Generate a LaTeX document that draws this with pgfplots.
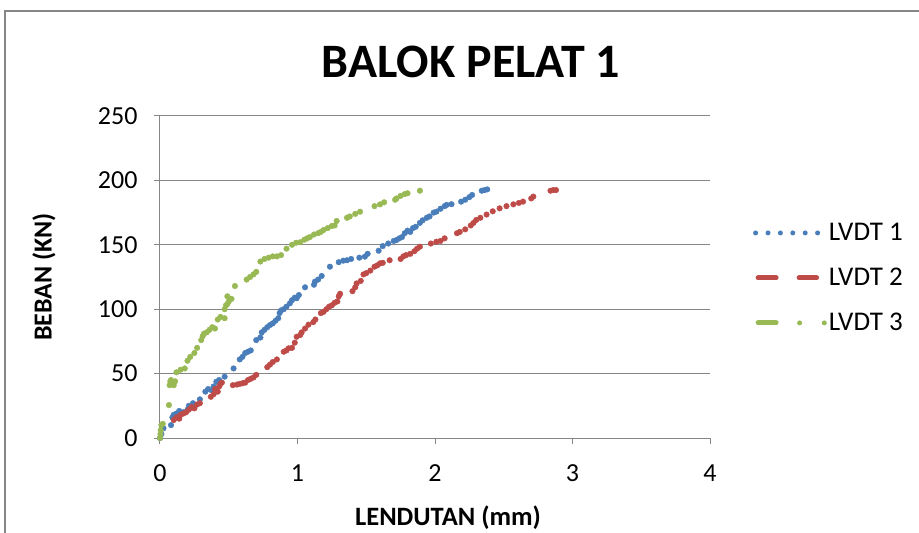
\documentclass[border=0pt]{standalone}
\usepackage{pgfplots}
\pgfplotsset{compat=1.18}
\usepackage{fontspec}
\setmainfont{Carlito}
\definecolor{cb}{HTML}{4A7EBB}
\definecolor{cr}{HTML}{BE4B48}
\definecolor{cg}{HTML}{98B954}
\definecolor{gc}{HTML}{868686}
\begin{document}
\begin{tikzpicture}[x=1pt,y=1pt]
\path[use as bounding box] (-160,-95) rectangle (759,438);
\draw[gc, line width=1.5pt] (-155,-95) -- (-155,427) -- (759,427);
\begin{axis}[
  width=550pt, height=322pt, scale only axis,
  at={(0,0)}, anchor=south west,
  xmin=0, xmax=4, ymin=0, ymax=250,
  xtick={0,1,2,3,4}, ytick={0,50,100,150,200,250},
  axis lines*=left,
  axis line style={-, gc, line width=1pt},
  tick style={gc, line width=1pt},
  tick align=outside, major tick length=6pt,
  ymajorgrids, grid style={gc, line width=1pt},
  /pgf/number format/assume math mode=true,
  ticklabel style={font=\fontsize{26}{30}\selectfont, black},
  xticklabel style={yshift=-17pt},
  yticklabel style={xshift=-13pt},
  legend style={draw=none, fill=none, at={(1.078,0.497)}, anchor=west,
    font=\fontsize{27}{31}\selectfont, row sep=22pt, inner sep=0pt},
  legend cell align=left,
  clip=false,
]
\addplot[only marks, mark=*, mark size=2.8pt, color=cb, forget plot] coordinates {
(0,0) (0.01,3) (0.025,7.5) (0.08,10) (0.09,16) (0.1,18) (0.12,19) (0.14,21) (0.17,20) (0.2,22)
(0.21,25) (0.24,27) (0.29,30) (0.33,36) (0.35,38) (0.375,37) (0.39,40) (0.41,43.7) (0.43,45)
(0.47,47.6) (0.535,54) (0.58,61) (0.6,63) (0.62,66) (0.64,67) (0.66,68) (0.70,76) (0.73,78)
(0.74,82) (0.76,84) (0.78,86) (0.8,87.7) (0.82,89) (0.84,91) (0.86,93) (0.87,97) (0.88,99)
(0.9,100) (0.92,102) (0.945,104.6) (0.96,107) (0.98,109) (0.994,108.5) (1.01,111) (1.055,117)
(1.12,119) (1.127,121.4) (1.15,123) (1.176,125.8) (1.236,133) (1.3,136.5) (1.333,137.7)
(1.36,138) (1.39,139) (1.45,140) (1.49,140.8) (1.51,143) (1.59,145.4) (1.62,149) (1.66,151)
(1.7,153) (1.72,153.7) (1.74,155) (1.76,156) (1.78,159) (1.8,161) (1.82,160) (1.84,163)
(1.86,164) (1.89,167) (1.91,169) (1.94,171) (1.96,172) (1.99,175) (2.01,175.7) (2.04,178)
(2.07,180) (2.085,181) (2.12,181.5) (2.19,183.5) (2.22,185) (2.25,187) (2.27,188.7) (2.34,192)
(2.36,192.5) (2.38,193)
};
\addplot[only marks, mark=*, mark size=2.8pt, color=cr, forget plot] coordinates {
(0.1,14) (0.12,16) (0.14,15) (0.15,18) (0.17,19) (0.19,20) (0.21,22) (0.23,24) (0.25,23)
(0.27,26) (0.29,27) (0.37,32) (0.39,34) (0.4,38) (0.42,36) (0.43,40) (0.44,42) (0.45,43)
(0.53,41) (0.56,41.5) (0.58,42) (0.6,42.5) (0.62,43) (0.64,45) (0.66,46) (0.68,47) (0.7,49)
(0.78,55) (0.8,57) (0.82,59) (0.85,61) (0.9,67) (0.92,68) (0.935,69.6) (0.96,70) (0.98,74)
(0.994,78.6) (1.02,80) (1.03,82) (1.055,85) (1.08,88) (1.115,90) (1.13,92) (1.17,97) (1.19,98)
(1.21,100) (1.23,102) (1.25,103) (1.27,105) (1.29,106) (1.3,110) (1.31,112) (1.4,114)
(1.42,117) (1.43,120) (1.46,122) (1.48,127) (1.5,128) (1.53,130) (1.56,133) (1.58,134)
(1.6,135.6) (1.62,136) (1.67,138) (1.75,139) (1.77,141) (1.79,142) (1.82,143) (1.85,145)
(1.87,147) (1.89,148.5) (1.97,151) (2.01,152.4) (2.04,153) (2.07,155) (2.16,159) (2.18,160)
(2.22,162) (2.26,165) (2.28,167) (2.30,169.3) (2.33,171) (2.375,173.5) (2.42,176) (2.47,178.3)
(2.52,180) (2.57,181.4) (2.61,182.5) (2.64,183.5) (2.7,186) (2.715,187.4) (2.84,192)
(2.86,192.5) (2.88,192.5)
};
\addplot[only marks, mark=*, mark size=2.8pt, color=cg, forget plot] coordinates {
(0,0) (0.003,3) (0.005,6) (0.01,10) (0.02,11) (0.065,25.6) (0.07,41) (0.075,44) (0.08,45)
(0.09,43) (0.1,41) (0.11,44) (0.12,51) (0.15,53) (0.18,54) (0.2,60) (0.22,63) (0.25,66)
(0.27,70) (0.3,76) (0.31,79) (0.32,81) (0.34,82) (0.36,84) (0.38,86) (0.4,85) (0.42,92)
(0.44,94) (0.47,93) (0.47,100) (0.48,103) (0.49,104) (0.5,106) (0.51,108) (0.49,110)
(0.52,108) (0.545,118) (0.63,123) (0.655,125) (0.68,127) (0.7,129) (0.73,137) (0.76,139)
(0.79,140) (0.82,141) (0.85,141) (0.88,142) (0.92,147) (0.96,150) (0.99,151.6) (1.02,152)
(1.05,154) (1.07,155) (1.09,156) (1.12,158) (1.15,159) (1.17,160) (1.19,161.5) (1.22,163)
(1.25,164.6) (1.27,165) (1.285,168.5) (1.36,171) (1.38,172) (1.42,174) (1.455,175.7)
(1.56,180) (1.6,181.4) (1.63,183) (1.71,185) (1.72,186) (1.75,188) (1.78,189.4) (1.8,190)
(1.89,192)
};
\addlegendimage{legend image code/.code={\draw[cb, line width=5pt, line cap=round, dash pattern=on 0pt off 12.4pt] (0pt,0pt) -- (62.5pt,0pt);}}
\addlegendimage{legend image code/.code={\draw[cr, line width=5pt, line cap=round, dash pattern=on 18pt off 23pt] (2.5pt,0pt) -- (61pt,0pt);}}
\addlegendimage{legend image code/.code={\draw[cg, line width=5pt, line cap=round, dash pattern=on 18pt off 23.5pt on 0pt off 24.7pt on 0pt off 100pt] (2.5pt,0pt) -- (68.7pt,0pt);}}
\legend{LVDT 1, LVDT 2, LVDT 3}
\end{axis}
\node[font=\fontsize{48}{54}\selectfont\bfseries] at (311,376) {BALOK PELAT 1};
\node[font=\fontsize{26}{30}\selectfont\bfseries, rotate=90] at (-116,161) {BEBAN (KN)};
\node[font=\fontsize{26.5}{30}\selectfont\bfseries] at (288,-80) {LENDUTAN (mm)};
\end{tikzpicture}
\end{document}
